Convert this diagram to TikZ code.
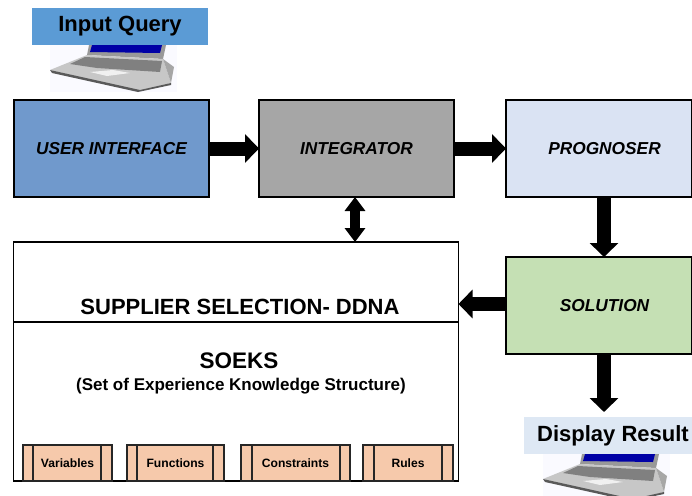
\documentclass[tikz,border=0pt]{standalone}
\usepackage{fontspec}
\setmainfont{Liberation Sans}
\usetikzlibrary{arrows.meta}
\definecolor{uiblue}{HTML}{7099CC}
\definecolor{qblue}{HTML}{5B9BD5}
\definecolor{intgray}{HTML}{A6A6A6}
\definecolor{proglt}{HTML}{DAE3F3}
\definecolor{solgreen}{HTML}{C5E0B4}
\definecolor{resblue}{HTML}{DEE8F4}
\definecolor{peach}{HTML}{F6C9AB}
\tikzset{
  blockbox/.style={draw=black,line width=1.4pt,inner sep=0pt,outer sep=0pt,font=\fontsize{17.3}{19}\selectfont\bfseries\itshape},
  labelbox/.style={inner sep=0pt,outer sep=0pt,font=\fontsize{22}{24}\selectfont\bfseries},
  fatarrow/.style={line width=14pt,draw=black,-{Triangle[length=14pt,width=28pt]}},
  thinarrow/.style={line width=10pt,draw=black,{Triangle[length=14pt,width=20pt]}-{Triangle[length=14pt,width=20pt]}},
  subbox/.style={draw=black!85,line width=1.1pt,fill=peach,inner sep=0pt,outer sep=0pt,minimum height=36pt,font=\fontsize{12.1}{14}\selectfont\bfseries},
  title/.style={inner sep=0pt,outer sep=0pt},
}
\newcommand{\laptop}[2]{%
  \begin{scope}[shift={(#1,#2)}]
    \fill[blue!2] (0,0) rectangle (127,47);
    % screen
    \fill[black!40] (39,0) -- (116,0) -- (113,14) -- (37,10) -- cycle;
    \fill[blue!65!black] (42,0) -- (112,0) -- (110,8) -- (40,7) -- cycle;
    % base
    \fill[black!22] (37,10) -- (113,14) -- (121,38) -- (90,46) -- (0,25) -- cycle;
    \fill[black!50] (20,19) -- (35,12) -- (112,16) -- (110,27) -- (47,23) -- cycle;
    \fill[black!6] (40,27) -- (63,25) -- (80,28) -- (57,31) -- cycle;
    \fill[black!65] (0,25) -- (90,45) -- (121,38) -- (121,40) -- (88,47) -- (2,28) -- cycle;
    \fill[black!35] (113,14) -- (124,22) -- (121,38) -- cycle;
  \end{scope}}
\begin{document}
\begin{tikzpicture}[x=1pt,y=-1pt]
\useasboundingbox (0,0) rectangle (692,495);
\fill[white] (0,0) rectangle (692,495);
% laptops
\laptop{50}{45}
\laptop{543}{454}
% labels
\node[labelbox,fill=qblue,minimum width=176pt,minimum height=37pt] (query) at (120,26.5) {\raisebox{-2.5pt}{Input Query}};
\node[labelbox,fill=resblue,minimum width=168pt,minimum height=37pt] (result) at (608,435.5) {\hspace*{10pt}\raisebox{-2.5pt}{Display Result}};
% blocks
\node[blockbox,fill=uiblue,minimum width=195pt,minimum height=97pt] (ui) at (111.5,148.5) {USER INTERFACE};
\node[blockbox,fill=intgray,minimum width=195pt,minimum height=97pt] (integ) at (356.5,148.5) {INTEGRATOR};
\node[blockbox,fill=proglt,minimum width=186pt,minimum height=97pt] (prog) at (599,148.5) {\hspace*{11pt}PROGNOSER};
\node[blockbox,fill=solgreen,minimum width=186pt,minimum height=97pt] (sol) at (599,305.5) {\hspace*{11pt}\raisebox{1pt}{SOLUTION}};
% big box
\node[draw=black,line width=1.2pt,inner sep=0pt,outer sep=0pt,minimum width=445pt,minimum height=239pt] (big) at (236,361.5) {};
\coordinate (divL) at (big.west |- 0,322);
\coordinate (divR) at (big.east |- 0,322);
\draw[black,line width=1.1pt] (divL) -- (divR);
\node[title,font=\fontsize{22}{24}\selectfont\bfseries] (ddna) at (240,307) {SUPPLIER SELECTION- DDNA};
\node[title,font=\fontsize{22.5}{24}\selectfont\bfseries] (soeks) at (239,361) {SOEKS};
\node[title,font=\fontsize{17}{19}\selectfont\bfseries] (soeksb) at (241,386) {(Set of Experience Knowledge Structure)};
% sub boxes
\node[subbox,minimum width=89pt] (v) at (67.5,463) {Variables};
\node[subbox,minimum width=97pt] (f) at (175.5,463) {Functions};
\node[subbox,minimum width=109pt] (c) at (295.5,463) {Constraints};
\node[subbox,minimum width=90pt] (r) at (408,463) {Rules};
\foreach \n/\a/\b in {v/33/101,f/137/213,c/252/340,r/374/442}{
  \draw[black!85,line width=1.1pt] (\a,0 |- \n.north) -- (\a,0 |- \n.south);
  \draw[black!85,line width=1.1pt] (\b,0 |- \n.north) -- (\b,0 |- \n.south);
}
% arrows
\draw[fatarrow] (ui.east) -- (integ.west);
\draw[fatarrow] (integ.east) -- (prog.west);
\draw[fatarrow] (prog.south -| 604,0) -- (sol.north -| 604,0);
\draw[fatarrow] (sol.west |- 0,304) -- (big.east |- 0,304);
\coordinate (resTop) at (604,412);
\draw[fatarrow] (sol.south -| 604,0) -- (resTop);
\draw[thinarrow] (integ.south -| 355,0) -- (big.north -| 355,0);
\end{tikzpicture}
\end{document}
